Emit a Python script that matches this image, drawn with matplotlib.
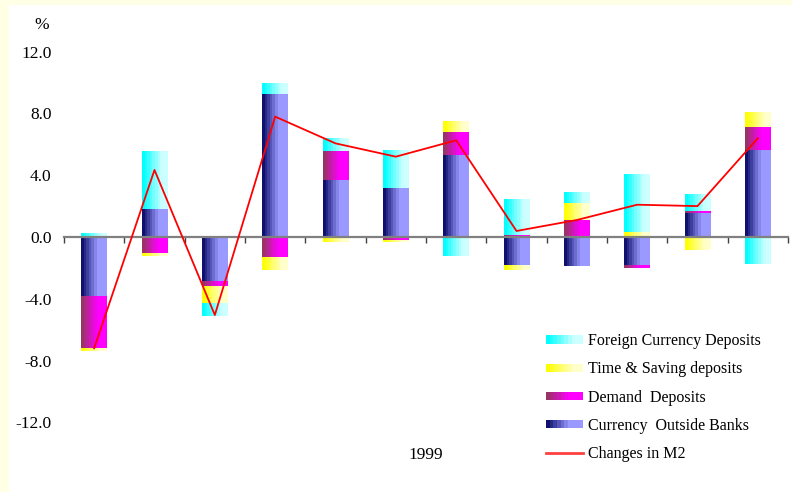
import numpy as np
import matplotlib
matplotlib.use("Agg")
import matplotlib.pyplot as plt
from matplotlib.colors import LinearSegmentedColormap
from matplotlib.legend_handler import HandlerBase
from matplotlib.patches import Rectangle
from matplotlib.lines import Line2D

plt.rcParams['font.family'] = ['Liberation Serif', 'DejaVu Serif']

months = ["Jan", "Feb", "Mar", "Apr", "May", "Jun",
          "Jul", "Aug", "Sep", "Oct", "Nov", "Dec"]
year = "1999"

# contributions to the monthly change in M2 (%)
foreign_currency = [0.20, 3.74, -0.80, 0.65, 0.78, 2.40, -1.21, 2.33, 0.71, 3.74, 1.10, -1.75]
time_saving = [-0.13, -0.15, -1.08, -0.78, -0.30, -0.12, 0.65, -0.30, 1.10, 0.34, -0.82, 0.97]
demand = [-3.39, -1.06, -0.33, -1.34, 1.88, -0.20, 1.49, 0.13, 1.10, -0.13, 0.11, 1.49]
currency_outside = [-3.86, 1.83, -2.89, 9.26, 3.69, 3.17, 5.31, -1.81, -1.86, -1.86, 1.57, 5.63]
m2_change = [-7.20, 4.34, -5.05, 7.79, 6.06, 5.20, 6.26, 0.39, 1.10, 2.09, 2.00, 6.39]

yticks = [-12, -8, -4, 0, 4, 8, 12]


def grad_cmap(c0, c1, frac):
    return LinearSegmentedColormap.from_list("g", [(0, c0), (frac, c1), (1, c1)])


# stacking order from the zero line outwards
series = [
    ("Currency  Outside Banks", currency_outside, grad_cmap("#10106e", "#9999ff", 0.65)),
    ("Demand  Deposits", demand, grad_cmap("#993366", "#ff00ff", 0.65)),
    ("Time & Saving deposits", time_saving, grad_cmap("#ffff00", "#ffffcc", 0.8)),
    ("Foreign Currency Deposits", foreign_currency, grad_cmap("#00ffff", "#ccffff", 0.8)),
]


class GradientHandle:
    def __init__(self, cmap):
        self.cmap = cmap


class GradientHandler(HandlerBase):
    def create_artists(self, legend, orig_handle, xdescent, ydescent,
                       width, height, fontsize, trans):
        n = 10
        h = height * 0.75
        y0 = -ydescent + (height - h) / 2
        out = []
        for i in range(n):
            out.append(Rectangle((-xdescent + width * i / n, y0), width / n * 1.05, h,
                                 facecolor=orig_handle.cmap(i / (n - 1)),
                                 edgecolor="none", lw=0, transform=trans))
        return out


fig = plt.figure(figsize=(7.92, 4.92), dpi=100)
fig.patch.set_facecolor("white")
fig.patches.append(Rectangle((0, 0), 9 / 792, 1, transform=fig.transFigure,
                             facecolor="#ffffe5", edgecolor="none"))
fig.patches.append(Rectangle((0, 1 - 5 / 492), 1, 5 / 492, transform=fig.transFigure,
                             facecolor="#ffffe5", edgecolor="none"))

ax = fig.add_axes([64 / 792, (492 - 484.2) / 492, 724 / 792, (484.2 - 20.7) / 492])
ax.set_facecolor("none")

x = np.arange(len(months))
width = 0.42
pos_base = np.zeros(len(months))
neg_base = np.zeros(len(months))
grad = np.linspace(0, 1, 10).reshape(1, -1)

for name, vals, cmap in series:
    vals = np.array(vals)
    bottoms = np.where(vals >= 0, pos_base, neg_base)
    bars = ax.bar(x + 0.5, vals, width, bottom=bottoms, color="none", edgecolor="none")
    for b in bars:
        x0, y0 = b.get_x(), b.get_y()
        x1, y1 = x0 + b.get_width(), y0 + b.get_height()
        ax.imshow(grad, cmap=cmap, extent=[x0, x1, min(y0, y1), max(y0, y1)],
                  aspect="auto", interpolation="nearest", zorder=1.5)
    pos_base += np.where(vals > 0, vals, 0)
    neg_base += np.where(vals < 0, vals, 0)

ax.plot(x + 0.5, m2_change, color="#ff0000", lw=1.3, zorder=3)

ax.set_xlim(0, len(months))
ax.set_ylim(-16, 14)

for s in ["top", "right", "left"]:
    ax.spines[s].set_visible(False)
ax.spines["bottom"].set_position(("data", 0))
ax.spines["bottom"].set_color("#808080")
ax.spines["bottom"].set_linewidth(1.6)
ax.spines["bottom"].set_zorder(2.5)

ax.set_xticks(np.arange(len(months) + 1))
ax.set_xticklabels([])
ax.tick_params(axis="x", direction="out", length=4, width=1, color="#404040")
ax.set_yticks(yticks)
ax.set_yticklabels([f"{v:.1f}" for v in yticks], fontsize=12.5)
ax.tick_params(axis="y", length=0, pad=9)

fig.text(42 / 792, 1 - 25 / 492, "%", ha="center", va="center", fontsize=12.5)
fig.text(426 / 792, 1 - 455 / 492, year, ha="center", va="center", fontsize=12.5)

handles = [GradientHandle(cmap) for _, _, cmap in series][::-1]
labels = [name for name, _, _ in series][::-1]
handles.append(Line2D([], [], color="#ff4040", lw=2))
labels.append("Changes in M2")
fig.legend(handles, labels, handler_map={GradientHandle: GradientHandler()},
           loc="upper left", bbox_to_anchor=(546 / 792, 1 - 333 / 492),
           frameon=False, fontsize=11.5, borderpad=0, borderaxespad=0,
           handlelength=2.3, handletextpad=0.3, labelspacing=0.77)

fig.savefig("out.png", dpi=100)
